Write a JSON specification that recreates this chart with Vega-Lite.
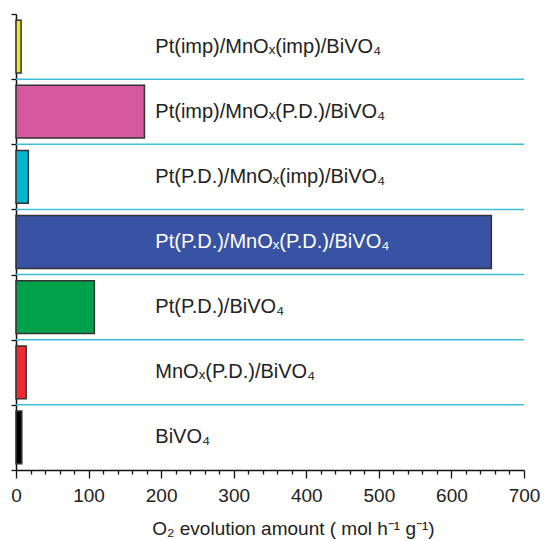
{
  "$schema": "https://vega.github.io/schema/vega-lite/v6.json",
  "autosize": {"type": "none"},
  "width": 508,
  "height": 456,
  "padding": {"left": 16, "top": 14, "right": 20, "bottom": 71},
  "background": "white",
  "config": {
    "view": {"stroke": null},
    "font": "Liberation Sans",
    "axis": {"domainColor": "#111", "domainWidth": 1.5, "tickColor": "#111", "tickWidth": 1.3, "labelColor": "#222", "titleColor": "#222", "labelFont": "Liberation Sans", "titleFont": "Liberation Sans", "grid": false}
  },
  "data": {
    "values": [
      {"name": "Pt(imp)/MnOₓ(imp)/BiVO₄", "value": 7},
      {"name": "Pt(imp)/MnOₓ(P.D.)/BiVO₄", "value": 177},
      {"name": "Pt(P.D.)/MnOₓ(imp)/BiVO₄", "value": 17},
      {"name": "Pt(P.D.)/MnOₓ(P.D.)/BiVO₄", "value": 655},
      {"name": "Pt(P.D.)/BiVO₄", "value": 108},
      {"name": "MnOₓ(P.D.)/BiVO₄", "value": 14},
      {"name": "BiVO₄", "value": 8}
    ]
  },
  "encoding": {
    "y": {
      "field": "name", "type": "nominal", "sort": null,
      "scale": {"paddingInner": 0, "paddingOuter": 0},
      "axis": {"title": null, "labels": false, "tickBand": "extent", "tickSize": 5, "domain": true}
    }
  },
  "layer": [
    {
      "transform": [{"filter": "datum.name !== 'BiVO₄'"}],
      "mark": {"type": "rule", "color": "#3cbfd6", "strokeWidth": 1.5},
      "encoding": {
        "y": {"field": "name", "type": "nominal", "sort": null, "bandPosition": 1}
      }
    },
    {
      "mark": {"type": "bar", "height": {"band": 0.81}, "stroke": "#333", "strokeWidth": 1.5},
      "encoding": {
        "x": {
          "field": "value", "type": "quantitative",
          "scale": {"domain": [0, 700], "nice": false, "zero": true},
          "axis": {
            "title": "O₂ evolution amount (  mol h⁻¹ g⁻¹)",
            "values": [0,20,40,60,80,100,120,140,160,180,200,220,240,260,280,300,320,340,360,380,400,420,440,460,480,500,520,540,560,580,600,620,640,660,680,700],
            "tickCount": 100,
            "labelExpr": "datum.value % 100 === 0 ? datum.label : ''",
            "tickSize": {"condition": {"test": "datum.value % 100 === 0", "value": 8}, "value": 4},
            "labelOverlap": false,
            "labelFontSize": 19,
            "labelPadding": 8,
            "labelFlush": false,
            "titleFontSize": 19,
            "titleFontWeight": "normal",
            "titlePadding": 14,
            "titleX": 277,
            "titleAlign": "center"
          }
        },
        "color": {
          "field": "name", "type": "nominal", "legend": null,
          "scale": {
            "domain": ["Pt(imp)/MnOₓ(imp)/BiVO₄", "Pt(imp)/MnOₓ(P.D.)/BiVO₄", "Pt(P.D.)/MnOₓ(imp)/BiVO₄", "Pt(P.D.)/MnOₓ(P.D.)/BiVO₄", "Pt(P.D.)/BiVO₄", "MnOₓ(P.D.)/BiVO₄", "BiVO₄"],
            "range": ["#f3e51b", "#d6589e", "#00b5cc", "#3953a4", "#00a14b", "#ee2c32", "#000000"]
          }
        }
      }
    },
    {
      "mark": {"type": "text", "align": "left", "baseline": "middle", "fontSize": 20, "font": "Liberation Sans"},
      "encoding": {
        "x": {"datum": 192, "type": "quantitative"},
        "text": {"field": "name"},
        "color": {"condition": {"test": "datum.name === 'Pt(P.D.)/MnOₓ(P.D.)/BiVO₄'", "value": "#ffffff"}, "value": "#222222"}
      }
    }
  ]
}
